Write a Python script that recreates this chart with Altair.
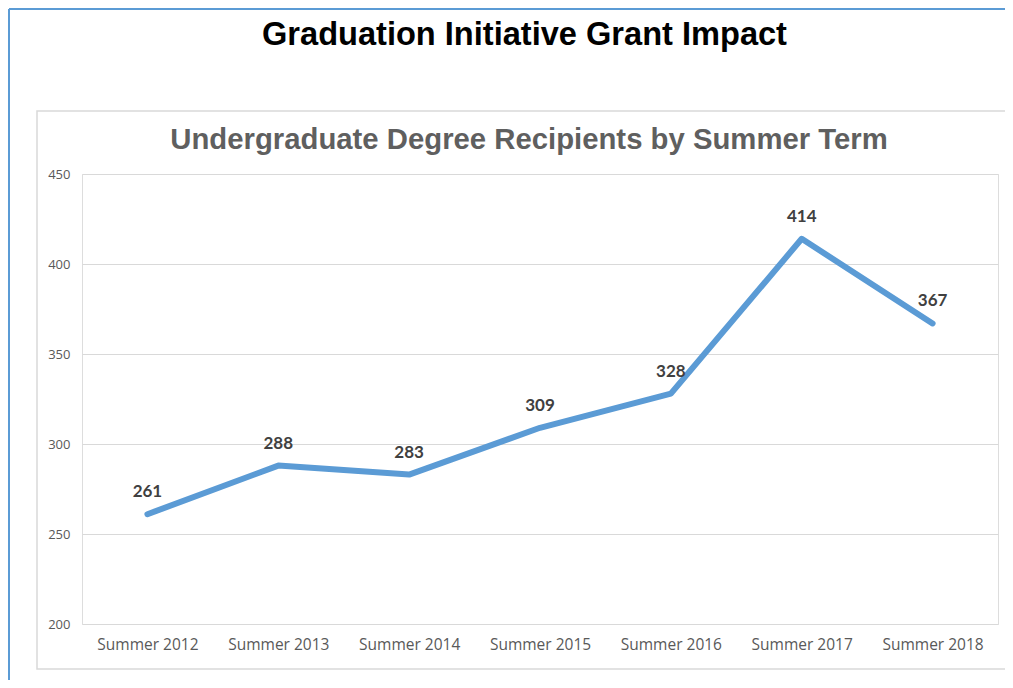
import altair as alt
import pandas as pd

terms = ["Summer 2012", "Summer 2013", "Summer 2014", "Summer 2015",
         "Summer 2016", "Summer 2017", "Summer 2018"]
recipients = [261, 288, 283, 309, 328, 414, 367]
y_ticks = [200, 250, 300, 350, 400, 450]
main_title = "Graduation Initiative Grant Impact"
chart_title = "Undergraduate Degree Recipients by Summer Term"

df = pd.DataFrame({"term": terms, "recipients": recipients})

x_enc = alt.X("term:N", sort=terms, title=None,
              scale=alt.Scale(type="point", padding=0.5),
              axis=alt.Axis(labelAngle=0, ticks=False, domain=False, grid=False,
                            labelFont="Open Sans", labelFontSize=15.5, labelColor="#595959",
                            labelPadding=13))
y_enc = alt.Y("recipients:Q", title=None,
              scale=alt.Scale(domain=[200, 450], nice=False, zero=False),
              axis=alt.Axis(values=y_ticks, ticks=False, domain=False, grid=True,
                            gridColor="#D9D9D9", gridWidth=1,
                            labelFont="Open Sans", labelFontSize=13, labelColor="#595959",
                            labelPadding=12))

one = alt.Data(values=[{}])

frame = alt.Chart(one).mark_rect(
    filled=False, stroke="#D9D9D9", strokeWidth=1.5
).encode(x=alt.value(-45), x2=alt.value(940), y=alt.value(-63), y2=alt.value(495))

outer_left = alt.Chart(one).mark_rule(
    color="#5B9BD5", strokeWidth=2
).encode(x=alt.value(-73), y=alt.value(-165), y2=alt.value(520))
outer_top = alt.Chart(one).mark_rule(
    color="#5B9BD5", strokeWidth=2
).encode(x=alt.value(-73), x2=alt.value(940), y=alt.value(-165))

title1 = alt.Chart(one).mark_text(
    text=main_title, font="Liberation Sans", fontSize=32.6, fontWeight="bold",
    color="#000000", align="center", baseline="alphabetic"
).encode(x=alt.value(442.5), y=alt.value(-129))

title2 = alt.Chart(one).mark_text(
    text=chart_title, font="Liberation Sans", fontSize=29.3, fontWeight="bold",
    color="#5f5f5f", align="center", baseline="alphabetic"
).encode(x=alt.value(447), y=alt.value(-25))

line = alt.Chart(df).mark_line(
    color="#5B9BD5", strokeWidth=6, strokeCap="round", strokeJoin="round"
).encode(x=x_enc, y=y_enc)

labels = alt.Chart(df).mark_text(
    font="Lato", fontSize=17, fontWeight="bold", color="#404040", dy=-22
).encode(x=alt.X("term:N", sort=terms), y=alt.Y("recipients:Q"),
         text=alt.Text("recipients:Q"))

chart = alt.layer(frame, outer_left, outer_top, title1, title2, line, labels).properties(
    width=916, height=450,
    autosize=alt.AutoSizeParams(type="none"),
    padding={"left": 74, "top": 166, "right": 7, "bottom": 56},
).configure_view(stroke=None).configure(background="white")

chart.save("out.html", embed_options={"renderer": "svg", "actions": False})
